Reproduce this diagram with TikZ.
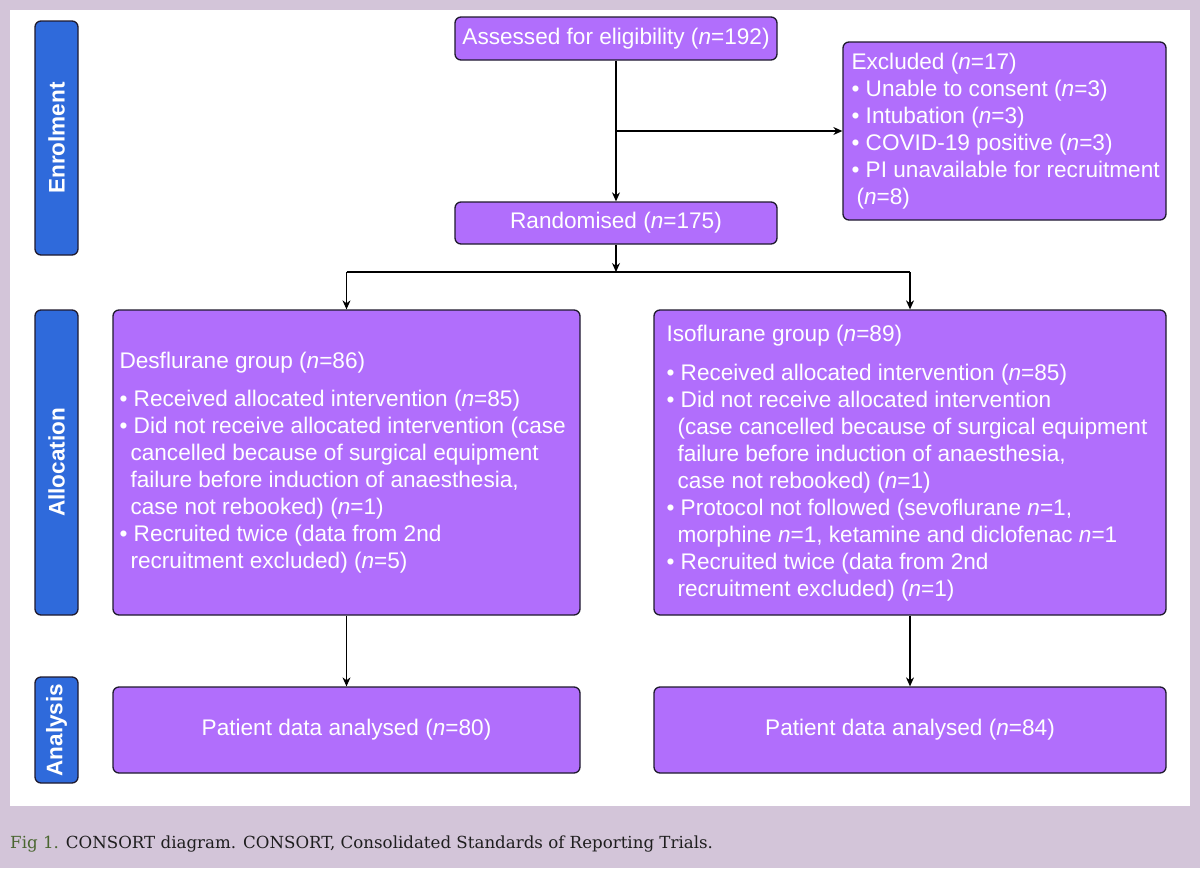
\documentclass[tikz,border=0pt]{standalone}
\usepackage{fontspec}
\setmainfont{DejaVu Serif}
\setsansfont{Liberation Sans}
\usetikzlibrary{arrows.meta}
\definecolor{bgcol}{HTML}{D3C5D9}
\definecolor{boxfill}{HTML}{B16EFC}
\definecolor{sidefill}{HTML}{2F6ADB}
\definecolor{edgecol}{HTML}{1F1A2E}
\definecolor{figgreen}{HTML}{4A6630}
\definecolor{captext}{HTML}{1E1E1E}
\newcommand{\nn}{\textit{n}}
\begin{document}
\begin{tikzpicture}[x=1pt,y=-1pt,
  boxstyle/.style={draw=edgecol, line width=1.3pt, fill=boxfill, rounded corners=6pt, inner sep=0pt},
  sidestyle/.style={draw=edgecol, line width=1.3pt, fill=sidefill, rounded corners=6pt, inner sep=0pt},
  sidetext/.style={text=white, font=\sffamily\bfseries\fontsize{22.5}{27}\selectfont, rotate=90},
  boxtext/.style={text=white, font=\sffamily\fontsize{22.6}{27}\selectfont, align=left, inner sep=0pt},
  ctext/.style={text=white, font=\sffamily\fontsize{22.6}{27}\selectfont, align=center, inner sep=0pt},
  conn/.style={draw=black, line width=1.2pt},
  arr/.style={conn, -{Stealth[length=9pt,width=8pt]}}
]
\useasboundingbox (0,0) rectangle (1200,868);
\fill[bgcol] (0,0) rectangle (1200,868);
\fill[white] (10,10) rectangle (1190,806);

% side labels
\node[sidestyle, minimum width=43pt, minimum height=234pt] (enr) at (56.5,138) {};
\node[sidetext] (enrt) at (enr.center) {Enrolment};
\node[sidestyle, minimum width=43pt, minimum height=305pt] (alloc) at (56.5,462.5) {};
\node[sidetext] (alloct) at (alloc.center) {Allocation};
\node[sidestyle, minimum width=43pt, minimum height=106pt] (ana) at (56.5,730) {};
\node[sidetext] (anat) at (ana.center) {Analysis};

% boxes
\node[boxstyle, minimum width=322pt, minimum height=43pt] (assess) at (616,38.5) {};
\node[ctext] (assesst) at (assess.center) {Assessed for eligibility (\nn=192)};

\node[boxstyle, minimum width=323pt, minimum height=178pt] (excl) at (1004.5,131) {};
\node[boxtext, anchor=west] (exclt) at ([xshift=9pt,yshift=-0.5pt]excl.west) {Excluded (\nn=17)\\
• Unable to consent (\nn=3)\\
• Intubation (\nn=3)\\
• COVID-19 positive (\nn=3)\\
• PI unavailable for recruitment\\
\hspace*{5pt}(\nn=8)};

\node[boxstyle, minimum width=322pt, minimum height=42pt] (rand) at (616,223) {};
\node[ctext] (randt) at (rand.center) {Randomised (\nn=175)};

\node[boxstyle, minimum width=467pt, minimum height=305pt] (des) at (346.5,462.5) {};
\node[boxtext, anchor=west] (dest) at ([xshift=7pt,yshift=-0.5pt]des.west) {Desflurane group (\nn=86)\\[11pt]
• Received allocated intervention (\nn=85)\\
• Did not receive allocated intervention (case\\
\hspace*{11pt}cancelled because of surgical equipment\\
\hspace*{11pt}failure before induction of anaesthesia,\\
\hspace*{11pt}case not rebooked) (\nn=1)\\
• Recruited twice (data from 2nd\\
\hspace*{11pt}recruitment excluded) (\nn=5)};

\node[boxstyle, minimum width=512pt, minimum height=305pt] (iso) at (910,462.5) {};
\node[boxtext, anchor=west] (isot) at ([xshift=13pt,yshift=-1pt]iso.west) {Isoflurane group (\nn=89)\\[12pt]
• Received allocated intervention (\nn=85)\\
• Did not receive allocated intervention\\
\hspace*{11pt}(case cancelled because of surgical equipment\\
\hspace*{11pt}failure before induction of anaesthesia,\\
\hspace*{11pt}case not rebooked) (\nn=1)\\
• Protocol not followed (sevoflurane \nn=1,\\
\hspace*{11pt}morphine \nn=1, ketamine and diclofenac \nn=1\\
• Recruited twice (data from 2nd\\
\hspace*{11pt}recruitment excluded) (\nn=1)};

\node[boxstyle, minimum width=467pt, minimum height=86pt] (pl) at (346.5,730) {};
\node[ctext] (plt) at (pl.center) {Patient data analysed (\nn=80)};
\node[boxstyle, minimum width=512pt, minimum height=86pt] (pr) at (910,730) {};
\node[ctext] (prt) at (pr.center) {Patient data analysed (\nn=84)};

% connectors
\coordinate (split1) at (assess.south |- excl.west);
\coordinate (split2) at (616,272);
\coordinate (sl) at (des.north |- split2);
\coordinate (sr) at (iso.north |- split2);
\draw[arr] (assess.south) -- (rand.north);
\draw[arr] (split1) -- (excl.west);
\draw[arr] (rand.south) -- (split2);
\draw[conn] (sl) -- (sr);
\draw[arr] (sl) -- (des.north);
\draw[arr] (sr) -- (iso.north);
\draw[arr] (des.south) -- (pl.north);
\draw[arr] (iso.south) -- (pr.north);

% caption
\node[anchor=west, inner sep=0pt, font=\fontsize{16.65}{20}\selectfont, text=captext] (cap) at (10,844) {\textcolor{figgreen}{Fig 1.} CONSORT diagram. CONSORT, Consolidated Standards of Reporting Trials.};
\end{tikzpicture}
\end{document}
